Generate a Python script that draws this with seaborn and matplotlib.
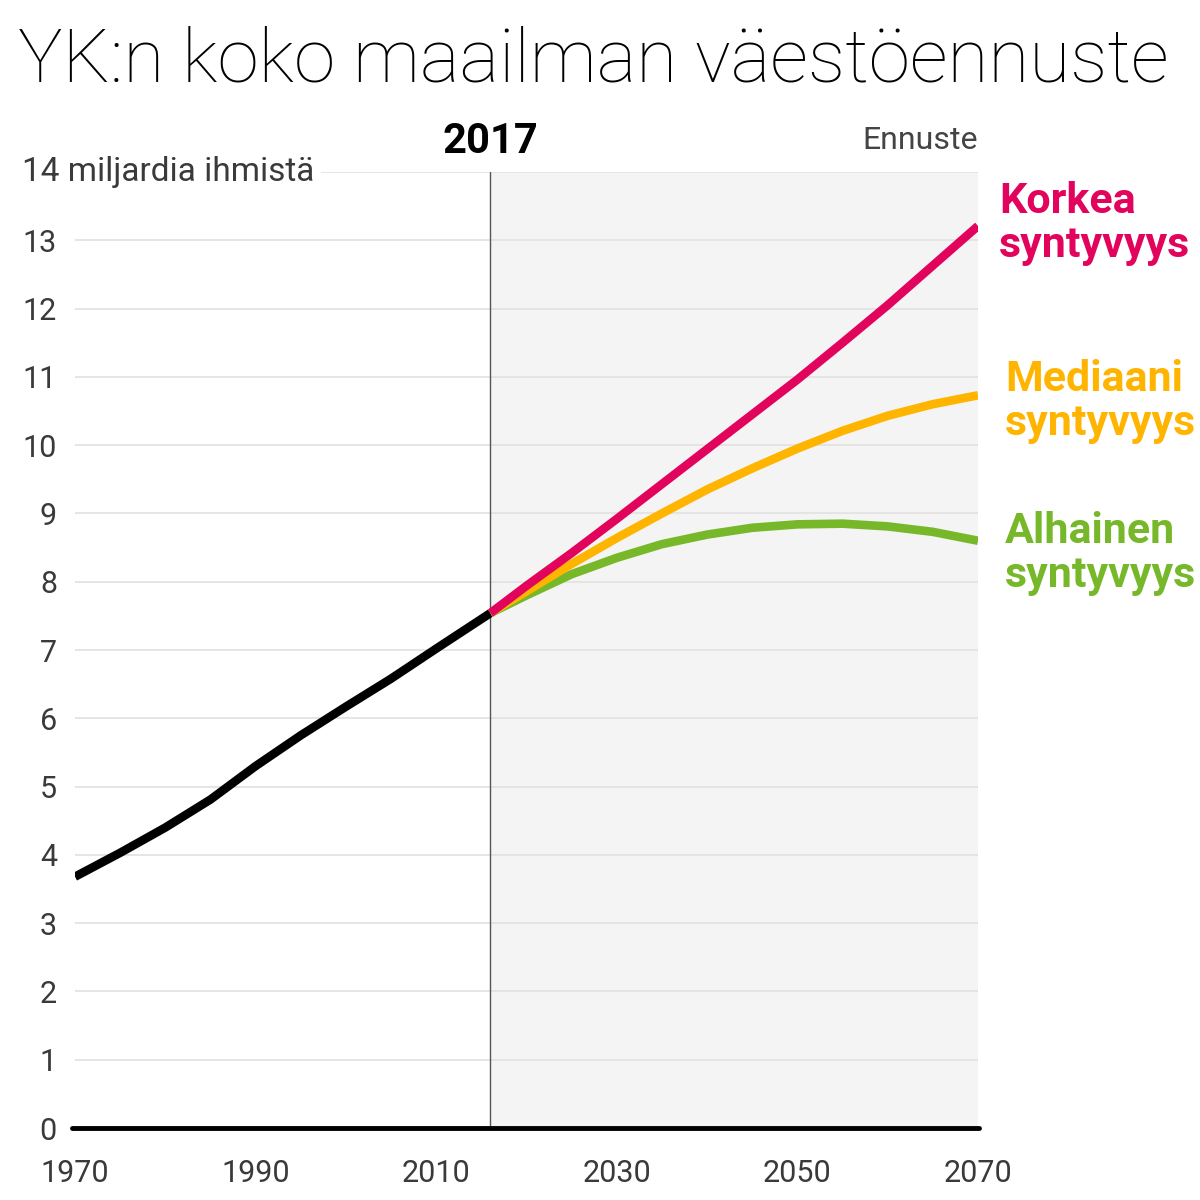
import numpy as np
import pandas as pd
import matplotlib
matplotlib.use("Agg")
import matplotlib.pyplot as plt
import matplotlib.transforms as mtransforms
import seaborn as sns

# --- data ---
hist_years = [1970, 1975, 1980, 1985, 1990, 1995, 2000, 2005, 2010, 2016]
hist_pop = [3.68, 4.03, 4.40, 4.81, 5.30, 5.75, 6.17, 6.58, 7.02, 7.54]

proj_years = [2016, 2020, 2025, 2030, 2035, 2040, 2045, 2050, 2055, 2060, 2065, 2070]
high_pop = [7.54, 7.94, 8.42, 8.92, 9.43, 9.94, 10.45, 10.96, 11.50, 12.05, 12.63, 13.21]
median_pop = [7.54, 7.86, 8.26, 8.64, 9.00, 9.35, 9.66, 9.95, 10.21, 10.43, 10.60, 10.73]
low_pop = [7.54, 7.80, 8.11, 8.35, 8.55, 8.69, 8.79, 8.84, 8.85, 8.81, 8.73, 8.60]

series_names = ["Korkea\nsyntyvyys", "Mediaani\nsyntyvyys", "Alhainen\nsyntyvyys"]
series_colors = ["#e2045c", "#ffb400", "#77b82a"]
label_baselines = [257, 435, 587]   # px from top, last line
label_x = [999, 1005, 1005]

x_ticks = [1970, 1990, 2010, 2030, 2050, 2070]
y_ticks = list(range(0, 15))

title = "YK:n koko maailman väestöennuste"
split_year = 2016

# --- long table for seaborn ---
hist_df = pd.DataFrame({"vuosi": hist_years, "vaesto": hist_pop, "sarja": "Toteutunut"})
proj_df = pd.concat([
    pd.DataFrame({"vuosi": proj_years, "vaesto": vals, "sarja": name})
    for name, vals in zip(series_names, [high_pop, median_pop, low_pop])
])

sns.set_theme(style="white")
plt.rcParams["font.family"] = ["Roboto", "DejaVu Sans"]

fig = plt.figure(figsize=(12, 12), dpi=100)
ax = fig.add_axes([75 / 1200, 1 - 1128 / 1200, 903 / 1200, (1128 - 172) / 1200])

# forecast shading + divider
ax.axvspan(split_year, 2070, color="#f4f4f4", zorder=0, lw=0)
ax.axvline(split_year, color="#555555", lw=1, zorder=1)

# grid
for yv in y_ticks[1:]:
    ax.axhline(yv, color="#e3e3e3", lw=1.3, zorder=0.5)

sns.lineplot(data=hist_df, x="vuosi", y="vaesto", color="black", lw=6.2,
             ax=ax, legend=False, zorder=3, solid_capstyle="butt")
sns.lineplot(data=proj_df, x="vuosi", y="vaesto", hue="sarja",
             hue_order=series_names[::-1], palette=series_colors[::-1],
             lw=6.2, ax=ax, legend=False, zorder=3, sort=True,
             solid_capstyle="butt")

ax.axhline(0, color="black", lw=3.5, zorder=4, xmin=-0.003, xmax=1.001, clip_on=False)

ax.set_xlim(1970, 2070)
ax.set_ylim(0, 14)
ax.set_xticks(x_ticks)
ax.set_yticks(y_ticks)
ax.set_yticklabels([str(v) for v in y_ticks[:-1]] + [""])
ax.tick_params(axis="both", length=0, labelsize=22, labelcolor="#3a3a3a")
ax.tick_params(axis="y", pad=13)
ax.tick_params(axis="x", pad=22)
ax.set_xlabel("")
ax.set_ylabel("")
for s in ax.spines.values():
    s.set_visible(False)

# top y label with white box covering the grid line
ax.annotate("14 miljardia ihmistä", xy=(0, 14), xycoords=("axes fraction", "data"),
            xytext=(-53, 0), textcoords="offset pixels", ha="left", va="center",
            fontsize=24, color="#3a3a3a", annotation_clip=False, zorder=5,
            bbox=dict(boxstyle="square,pad=0.2", fc="white", ec="none"))

# annotations above the plot
blend = mtransforms.blended_transform_factory(ax.transData, fig.transFigure)
ax.text(split_year, 1 - 153 / 1200, "2017", transform=blend, ha="center",
        va="baseline", fontsize=30, fontweight="bold", color="black")
fig.text(978 / 1200, 1 - 149 / 1200, "Ennuste", ha="right", va="baseline",
         fontsize=23, color="#444444")

for name, col, yb, xl in zip(series_names, series_colors, label_baselines, label_x):
    fig.text(xl / 1200, 1 - yb / 1200, name, ha="left", va="baseline",
             fontsize=31, fontweight="bold", color=col, linespacing=1.1)

fig.text(18 / 1200, 1 - 81 / 1200, title, ha="left", va="baseline",
         fontsize=53.8, fontweight="light", color="black")

fig.savefig("out.png", dpi=100, facecolor="white")
